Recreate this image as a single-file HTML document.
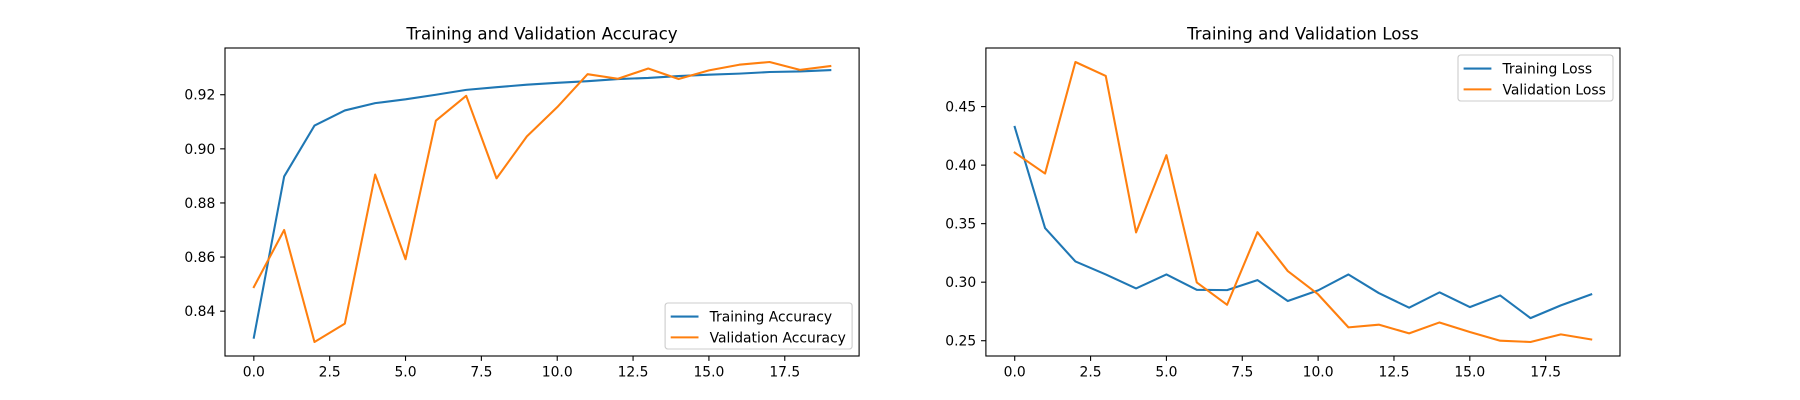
<!DOCTYPE html>
<html><head><meta charset="utf-8"><style>
html,body{margin:0;padding:0;background:#fff;}
svg{display:block;font-family:"DejaVu Sans","Liberation Sans",sans-serif;}
</style></head><body>
<svg id="fig" width="1800" height="400" viewBox="0 0 1800 400" xmlns="http://www.w3.org/2000/svg"></svg>
<script>
const epochs = [0,1,2,3,4,5,6,7,8,9,10,11,12,13,14,15,16,17,18,19];
const trainAcc = [0.8302,0.8898,0.9086,0.9142,0.9169,0.9183,0.9200,0.9218,0.9228,0.9237,0.9244,0.9250,0.9258,0.9262,0.9269,0.9274,0.9278,0.9284,0.9286,0.9291];
const valAcc = [0.8489,0.8700,0.8286,0.8354,0.8905,0.8592,0.9104,0.9196,0.8891,0.9046,0.9154,0.9276,0.9259,0.9297,0.9258,0.9290,0.9311,0.9321,0.9292,0.9306];
const trainLoss = [0.4326,0.3462,0.3177,0.3066,0.2947,0.3066,0.2935,0.2932,0.3018,0.2839,0.2930,0.3066,0.2907,0.2782,0.2913,0.2787,0.2887,0.2693,0.2802,0.2896];
const valLoss = [0.4107,0.3928,0.4881,0.4762,0.3425,0.4085,0.2998,0.2807,0.3427,0.3095,0.2896,0.2614,0.2637,0.2563,0.2656,0.2574,0.2500,0.2489,0.2554,0.2511];
const xTicks = [0,2.5,5,7.5,10,12.5,15,17.5];
const xTickLabels = ["0.0","2.5","5.0","7.5","10.0","12.5","15.0","17.5"];
const accTicks = [0.84,0.86,0.88,0.90,0.92];
const accTickLabels = ["0.84","0.86","0.88","0.90","0.92"];
const lossTicks = [0.25,0.30,0.35,0.40,0.45];
const lossTickLabels = ["0.25","0.30","0.35","0.40","0.45"];

const NS="http://www.w3.org/2000/svg";
const svg=document.getElementById('fig');
function mk(tag,attrs,parent){const e=document.createElementNS(NS,tag);for(const k in attrs)e.setAttribute(k,attrs[k]);(parent||svg).appendChild(e);return e;}
const FS=13.89;

function panel(key,left,title,s1,s2,names,yTicks,yLabels,legendPos){
  const top=48,bottom=356,w=634.1,h=bottom-top;
  const g=mk('g',{});
  
  
  const all=s1.concat(s2);
  const mn=Math.min(...all),mx=Math.max(...all),R=mx-mn;
  const y0=mn-0.05*R,y1=mx+0.05*R;
  const xmn=Math.min(...epochs),xmx=Math.max(...epochs),XR=xmx-xmn;
  const x0=xmn-0.05*XR,x1=xmx+0.05*XR;
  const sx=v=>left+(v-x0)/(x1-x0)*w;
  const sy=v=>bottom-(v-y0)/(y1-y0)*h;
  // title
  const t=mk('text',{x:left+w/2,y:top-8.3,'text-anchor':'middle','font-size':16.67,fill:'#000'},g);
  t.textContent=title;
  
  
  // series
  const cols=['#1f77b4','#ff7f0e'];
  [s1,s2].forEach((s,i)=>{
    const pts=s.map((v,j)=>sx(epochs[j]).toFixed(2)+','+sy(v).toFixed(2)).join(' ');
    const pl=mk('polyline',{points:pts,fill:'none',stroke:cols[i],'stroke-width':2.08,'stroke-linejoin':'round','stroke-linecap':'square'},g);
    
    
  });
  // frame
  const fr=mk('rect',{x:left,y:top,width:w,height:h,fill:'none',stroke:'#000','stroke-width':1.1},g);
  
  
  // x ticks
  xTicks.forEach((v,i)=>{
    const X=sx(v);
    mk('line',{x1:X,y1:bottom,x2:X,y2:bottom+4.86,stroke:'#000','stroke-width':1.1},g);
    const tl=mk('text',{x:X,y:bottom+9.7+FS*0.76,'text-anchor':'middle','font-size':FS},g);
    tl.textContent=xTickLabels[i];
    
    
  });
  yTicks.forEach((v,i)=>{
    const Y=sy(v);
    mk('line',{x1:left-4.86,y1:Y,x2:left,y2:Y,stroke:'#000','stroke-width':1.1},g);
    const tl=mk('text',{x:left-9.7,y:Y+FS*0.36,'text-anchor':'end','font-size':FS},g);
    tl.textContent=yLabels[i];
    
    
  });
  // legend
  const lw=legendPos.w,lh=46;
  const lx=left+w-7-lw;
  const ly=legendPos.loc==='lower'?bottom-7-lh:top+7;
  const lg=mk('g',{},g);
  
  
  mk('rect',{x:lx,y:ly,width:lw,height:lh,rx:2.8,fill:'#fff','fill-opacity':0.8,stroke:'#ccc','stroke-width':1.1},lg);
  names.forEach((n,i)=>{
    const cy=ly+5.6+FS*0.5+i*FS*1.5+1;
    mk('line',{x1:lx+5.6,y1:cy,x2:lx+5.6+27.8,y2:cy,stroke:cols[i],'stroke-width':2.08},lg);
    const lt=mk('text',{x:lx+5.6+27.8+11.1,y:cy+FS*0.36,'font-size':FS},lg);
    lt.textContent=n;
    
    
  });
}
panel('accuracy',225,'Training and Validation Accuracy',trainAcc,valAcc,['Training Accuracy','Validation Accuracy'],accTicks,accTickLabels,{loc:'lower',w:187});
panel('loss',985.9,'Training and Validation Loss',trainLoss,valLoss,['Training Loss','Validation Loss'],lossTicks,lossTickLabels,{loc:'upper',w:155});
</script>
</body></html>
